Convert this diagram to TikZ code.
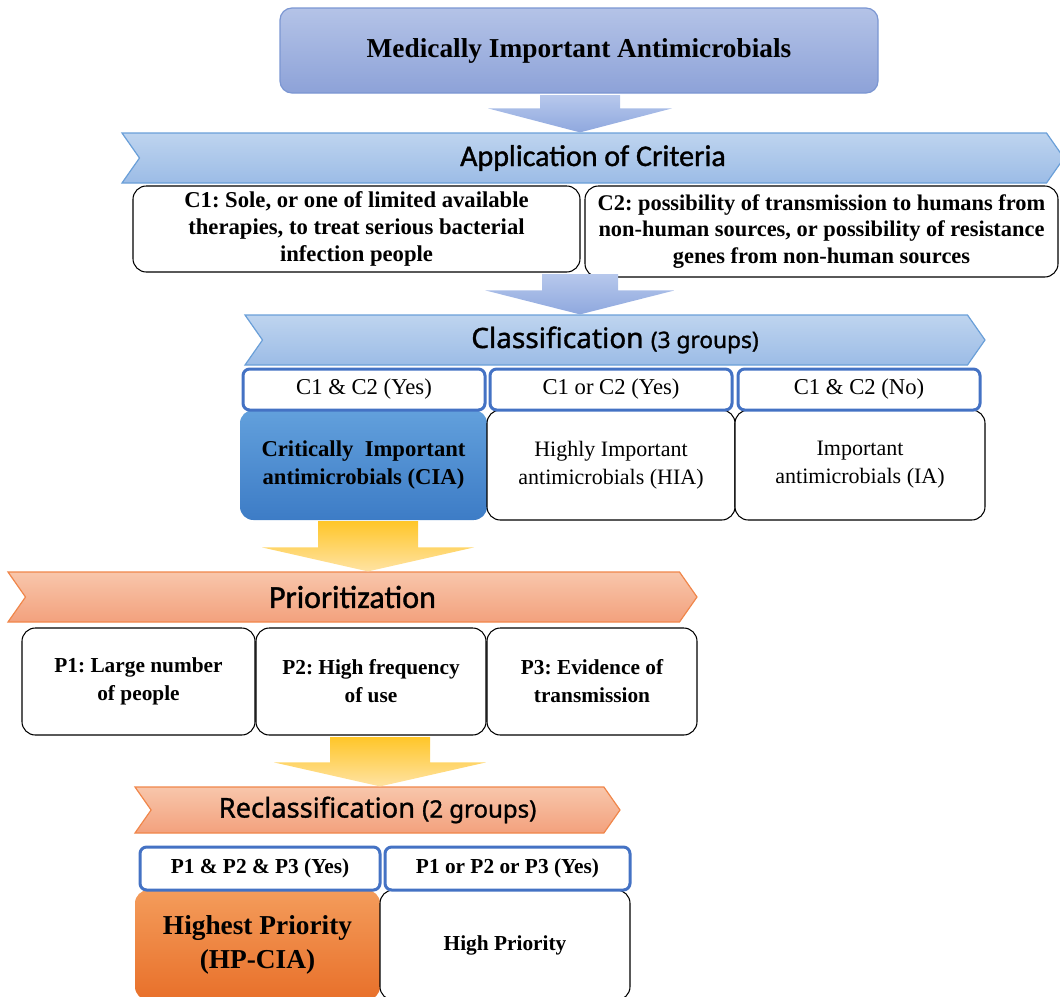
\documentclass[tikz,border=0pt]{standalone}
\usepackage{fontspec}
\setmainfont{Liberation Serif}
\newfontface\malgun{Noto Sans}[FakeBold=1.2]
\newfontface\calib{Carlito}[FakeBold=1.2]
\usepackage{xcolor}
\usetikzlibrary{shapes.symbols,calc}
\frenchspacing

\definecolor{titletop}{HTML}{B4C3E7}
\definecolor{titlebot}{HTML}{8DA2D8}
\definecolor{titleline}{HTML}{7B96D2}
\definecolor{bbantop}{HTML}{BED4EF}
\definecolor{bbanbot}{HTML}{9CBCE6}
\definecolor{bbanline}{HTML}{6A9FD8}
\definecolor{barrtop}{HTML}{B7C8EC}
\definecolor{barrbot}{HTML}{8FA8DE}
\definecolor{condline}{HTML}{4472C4}
\definecolor{ciatop}{HTML}{62A0DC}
\definecolor{ciabot}{HTML}{3D7CC6}
\definecolor{obantop}{HTML}{F8C6AB}
\definecolor{obanbot}{HTML}{F3A17D}
\definecolor{obanline}{HTML}{F0864A}
\definecolor{yarrtop}{HTML}{FFC629}
\definecolor{yarrbot}{HTML}{FFE3A3}
\definecolor{hptop}{HTML}{F49C5B}
\definecolor{hpbot}{HTML}{E8702A}

% down block arrow: style, start coordinate, target node, half shaft, half head
\newcommand{\blockarrow}[5]{%
  \path[#1] let \p1=(#2), \p2=(#3.north) in
    (\x1-#4,\y1) -- (\x1+#4,\y1) -- (\x1+#4,\y2+18pt) -- (\x1+#5,\y2+18pt)
    -- (\x1,\y2) -- (\x1-#5,\y2+18pt) -- (\x1-#4,\y2+18pt) -- cycle;}

\tikzset{
  titlebox/.style={rounded corners=9pt, top color=titletop, bottom color=titlebot,
    draw=titleline, line width=0.9pt, inner sep=0pt},
  banner/.style={signal, signal from=west, signal to=east, signal pointer angle=110,
    inner sep=0pt, line width=0.9pt},
  bluebanner/.style={banner, top color=bbantop, bottom color=bbanbot, draw=bbanline},
  orangebanner/.style={banner, top color=obantop, bottom color=obanbot, draw=obanline},
  textbox/.style={draw=black, line width=0.8pt, rounded corners=10pt, fill=white,
    align=center, inner sep=0pt, font=\fontsize{17}{20}\selectfont\bfseries},
  condbox/.style={draw=condline, line width=2.25pt, rounded corners=5pt, fill=white,
    inner sep=0pt, font=\fontsize{17}{19}\selectfont},
  groupbox/.style={draw=black, line width=0.8pt, rounded corners=10pt, fill=white,
    align=center, inner sep=0pt, font=\fontsize{16.5}{21}\selectfont},
  blockblue/.style={top color=barrtop, bottom color=barrbot},
  blockyellow/.style={top color=yarrtop, bottom color=yarrbot}
}

\begin{document}
\begin{tikzpicture}[x=0.75pt,y=-0.75pt]
  \useasboundingbox (0,0) rectangle (1060,996);
  \clip (0,0) rectangle (1060,996);

  % Title
  \node[titlebox, minimum width=448.5pt, minimum height=63.75pt,
    font=\fontsize{20.5}{24}\selectfont\bfseries] (mia) at (579,50.5)
    {Medically Important Antimicrobials};

  % Criteria
  \node[bluebanner, minimum width=706.5pt, minimum height=37.5pt,
    font=\calib\fontsize{22.5}{24}\selectfont] (apply) at (593,158)
    {Application of Criteria};
  \coordinate (a1) at (580,95);
  \blockarrow{blockblue}{a1}{apply}{30pt}{69pt}
  \node[textbox, minimum width=335.25pt, minimum height=64.5pt] (c1) at (356.5,229)
    {C1: Sole, or one of limited available\\therapies, to treat serious bacterial\\infection people};
  \node[textbox, minimum width=354.75pt, minimum height=68.25pt,
    font=\fontsize{16.8}{20}\selectfont\bfseries] (c2) at (821.5,231.5)
    {C2: possibility of transmission to humans from\\non-human sources, or possibility of resistance\\genes from non-human sources};

  % Classification
  \node[bluebanner, minimum width=555pt, minimum height=37.5pt] (class) at (615,340)
    {\malgun\fontsize{21}{24}\selectfont Classification \fontsize{17}{24}\selectfont(3 groups)};
  \coordinate (a2) at (580,274);
  \blockarrow{blockblue}{a2}{class}{28.5pt}{71pt}
  \node[groupbox, draw=none, top color=ciatop, bottom color=ciabot,
    minimum width=185.25pt, minimum height=82.5pt, font=\fontsize{17}{21}\selectfont\bfseries]
    (cia) at (363.5,465) {Critically\ \ Important\\antimicrobials (CIA)};
  \node[groupbox, minimum width=186pt, minimum height=82.5pt] (hia) at (611,465)
    {Highly Important\\antimicrobials (HIA)};
  \node[groupbox, minimum width=187.5pt, minimum height=82.5pt] (ia) at (860,465)
    {Important\\antimicrobials (IA)};
  \node[condbox, minimum width=181.5pt, minimum height=30.75pt] (k1) at (364,389.5) {C1 \& C2 (Yes)};
  \node[condbox, minimum width=181.5pt, minimum height=30.75pt] (k2) at (611,389.5) {C1 or C2 (Yes)};
  \node[condbox, minimum width=181.5pt, minimum height=30.75pt] (k3) at (859,389.5) {C1 \& C2 (No)};

  % Prioritization
  \node[orangebanner, minimum width=516.75pt, minimum height=37.5pt,
    font=\calib\fontsize{24}{26}\selectfont] (prio) at (352.5,597) {Prioritization};
  \coordinate (a3) at (368,521);
  \blockarrow{blockyellow}{a3}{prio}{37.5pt}{79.5pt}
  \node[textbox, minimum width=174.75pt, minimum height=80.25pt,
    font=\fontsize{16}{21}\selectfont\bfseries] (p1) at (138.5,681.5) {P1: Large number\\of people};
  \node[textbox, minimum width=172.5pt, minimum height=80.25pt,
    font=\fontsize{16}{21}\selectfont\bfseries] (p2) at (371,681.5) {P2: High frequency\\of use};
  \node[textbox, minimum width=157.5pt, minimum height=80.25pt,
    font=\fontsize{16}{21}\selectfont\bfseries] (p3) at (592,681.5) {P3: Evidence of\\transmission};

  % Reclassification
  \node[orangebanner, minimum width=363.75pt, minimum height=34.5pt] (reclass) at (377.5,810)
    {\malgun\fontsize{20.5}{24}\selectfont Reclassification \fontsize{18}{24}\selectfont(2 groups)};
  \coordinate (a4) at (380,737);
  \blockarrow{blockyellow}{a4}{reclass}{37.5pt}{79.5pt}
  \node[groupbox, draw=none, top color=hptop, bottom color=hpbot,
    minimum width=183.75pt, minimum height=82.5pt, font=\fontsize{20.5}{25}\selectfont\bfseries]
    (hp) at (257.5,945) {Highest Priority\\(HP-CIA)};
  \node[groupbox, minimum width=187.5pt, minimum height=82.5pt,
    font=\fontsize{16}{20}\selectfont\bfseries] (high) at (505,945) {High Priority};
  \node[condbox, minimum width=180pt, minimum height=32.25pt,
    font=\fontsize{16}{19}\selectfont\bfseries] (q1) at (260,868.5) {P1 \& P2 \& P3 (Yes)};
  \node[condbox, minimum width=183.75pt, minimum height=32.25pt,
    font=\fontsize{16}{19}\selectfont\bfseries] (q2) at (507.5,868.5) {P1 or P2 or P3 (Yes)};
\end{tikzpicture}
\end{document}
